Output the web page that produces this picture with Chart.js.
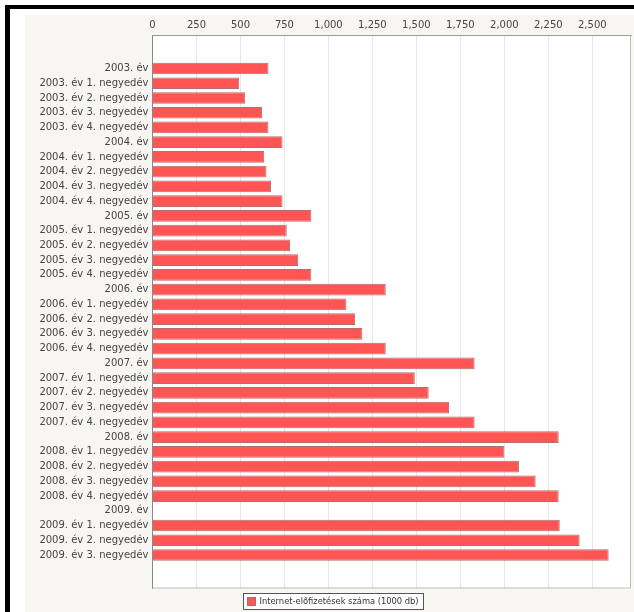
<!DOCTYPE html>
<html>
<head>
<meta charset="utf-8">
<script src="https://cdn.jsdelivr.net/npm/chart.js@4/dist/chart.umd.min.js"></script>
<style>
  html, body { margin: 0; padding: 0; background: #ffffff; }
  #wrap { position: absolute; left: 0; top: 0; width: 634px; height: 612px; }
</style>
</head>
<body>
<div id="wrap"><canvas id="c" width="634" height="612"></canvas></div>
<script>
// Internet subscriptions in Hungary, thousands, yearly and quarterly
const categories = [
  '2003. év', '2003. év 1. negyedév', '2003. év 2. negyedév', '2003. év 3. negyedév', '2003. év 4. negyedév',
  '2004. év', '2004. év 1. negyedév', '2004. év 2. negyedév', '2004. év 3. negyedév', '2004. év 4. negyedév',
  '2005. év', '2005. év 1. negyedév', '2005. év 2. negyedév', '2005. év 3. negyedév', '2005. év 4. negyedév',
  '2006. év', '2006. év 1. negyedév', '2006. év 2. negyedév', '2006. év 3. negyedév', '2006. év 4. negyedév',
  '2007. év', '2007. év 1. negyedév', '2007. év 2. negyedév', '2007. év 3. negyedév', '2007. év 4. negyedév',
  '2008. év', '2008. év 1. negyedév', '2008. év 2. negyedév', '2008. év 3. negyedév', '2008. év 4. negyedév',
  '2009. év', '2009. év 1. negyedév', '2009. év 2. negyedév', '2009. év 3. negyedév'
];
const subscriptions = [
  659, 493, 527, 623, 659,
  739, 635, 648, 674, 739,
  903, 763, 782, 828, 903,
  1326, 1102, 1152, 1193, 1326,
  1831, 1491, 1570, 1686, 1831,
  2309, 2000, 2083, 2178, 2309,
  null, 2315, 2428, 2593
];
const valueTicks = [0, 250, 500, 750, 1000, 1250, 1500, 1750, 2000, 2250, 2500];
const seriesLabel = 'Internet-előfizetések száma (1000 db)';

const BAR_FILL = 'rgb(255,85,85)';
const BAR_EDGE = 'rgba(170,95,95,0.9)';
const PANEL_BG = '#f8f6f2';
const CAT_MARGIN = 2.27; // empty space above first and below last category, in category units

// page frame, panel and plot background
const backdrop = {
  id: 'backdrop',
  beforeDraw(chart) {
    const { ctx, chartArea: a, width, height } = chart;
    ctx.save();
    ctx.fillStyle = '#ffffff';
    ctx.fillRect(0, 0, width, height);
    ctx.fillStyle = '#000000';
    ctx.fillRect(5, 5, width - 5, 4);
    ctx.fillRect(5, 5, 5, height - 5);
    ctx.fillStyle = PANEL_BG;
    ctx.fillRect(25, 15, width - 25, height - 15);
    ctx.fillStyle = '#ffffff';
    ctx.fillRect(a.left, a.top, a.right - a.left, a.bottom - a.top);
    ctx.restore();
  },
  afterDraw(chart) {
    const { ctx, chartArea: a } = chart;
    ctx.save();
    // plot outline on the open sides
    ctx.strokeStyle = '#bdbdbd';
    ctx.lineWidth = 1;
    ctx.beginPath();
    ctx.moveTo(a.right - 0.5, a.top);
    ctx.lineTo(a.right - 0.5, a.bottom - 0.5);
    ctx.lineTo(a.left, a.bottom - 0.5);
    ctx.stroke();

    // legend box below the plot
    ctx.font = '9.25px "DejaVu Sans Condensed", "DejaVu Sans", sans-serif';
    const tw = ctx.measureText(seriesLabel).width;
    const boxW = Math.round(tw + 21);
    const cx = 332.5;
    const bx = Math.round(cx - boxW / 2) + 0.5;
    const by = 593.5;
    const bh = 16;
    ctx.fillStyle = '#ffffff';
    ctx.fillRect(bx, by, boxW, bh);
    ctx.strokeStyle = '#555555';
    ctx.strokeRect(bx, by, boxW, bh);
    ctx.fillStyle = BAR_FILL;
    ctx.fillRect(bx + 4, by + 4, 8, 8);
    ctx.strokeStyle = BAR_EDGE;
    ctx.strokeRect(bx + 4, by + 4, 8, 8);
    ctx.fillStyle = '#333333';
    ctx.textBaseline = 'middle';
    ctx.textAlign = 'left';
    ctx.fillText(seriesLabel, bx + 16, by + bh / 2 + 0.5);
    ctx.restore();
  }
};

const tickFont = { family: 'DejaVu Sans', size: 10 };

new Chart(document.getElementById('c'), {
  type: 'bar',
  data: {
    datasets: [{
      label: seriesLabel,
      data: subscriptions.map((v, i) => ({ x: v, y: i })),
      backgroundColor: BAR_FILL,
      borderColor: BAR_EDGE,
      borderWidth: 1,
      categoryPercentage: 0.79,
      barPercentage: 1
    }]
  },
  options: {
    indexAxis: 'y',
    responsive: false,
    devicePixelRatio: 1,
    animation: false,
    locale: 'en-US',
    layout: { padding: { left: 25, top: 15, right: 3, bottom: 23.5 } },
    plugins: {
      legend: { display: false },
      tooltip: { enabled: false }
    },
    scales: {
      x: {
        type: 'linear',
        position: 'top',
        min: 0,
        max: 2720,
        afterBuildTicks: s => { s.ticks = valueTicks.map(v => ({ value: v })); },
        afterFit: s => { s.height = 20; },
        ticks: { padding: 4, color: '#444444', font: tickFont, maxRotation: 0, autoSkip: false },
        grid: { color: '#e6e6e6', lineWidth: 1, drawTicks: false },
        border: { display: true, color: '#999999', width: 1 }
      },
      y: {
        type: 'linear',
        reverse: true,
        offset: false,
        min: -CAT_MARGIN,
        max: categories.length - 1 + CAT_MARGIN,
        afterBuildTicks: s => { s.ticks = categories.map((_, i) => ({ value: i })); },
        afterFit: s => { s.width = 127.5; },
        ticks: {
          autoSkip: false,
          padding: 4,
          color: '#444444',
          font: tickFont,
          callback: v => categories[v]
        },
        grid: { display: false, drawTicks: false, offset: false },
        border: { display: true, color: '#888888', width: 1 }
      }
    }
  },
  plugins: [backdrop]
});
</script>
</body>
</html>
